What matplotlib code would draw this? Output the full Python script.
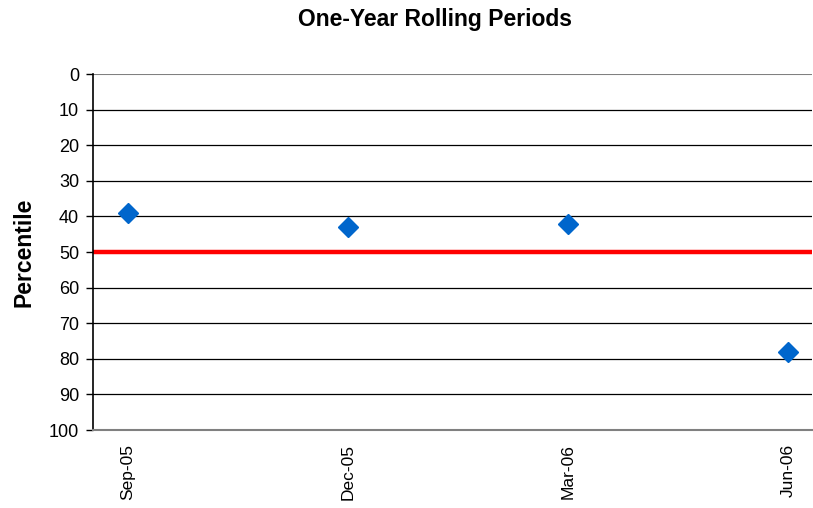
import matplotlib.pyplot as plt

# data
periods = ["Sep-05", "Dec-05", "Mar-06", "Jun-06"]
percentile = [39, 43, 42, 78]
median_line = 50
y_ticks = list(range(0, 101, 10))

plt.rcParams['font.family'] = ['Liberation Sans', 'DejaVu Sans']

fig = plt.figure(figsize=(8.13, 5.08), dpi=100)
ax = fig.add_axes([0.1144, 0.1535, 0.8844, 0.7008])

x = list(range(len(periods)))

# horizontal grid lines
for t in y_ticks[1:-1]:
    ax.axhline(t, color='black', linewidth=0.9, zorder=1)
ax.axhline(0, color='#808080', linewidth=1.5, zorder=1)

# red 50th percentile line
ax.axhline(median_line, color='#ff0000', linewidth=3.2, zorder=2)

ax.plot(x, percentile, linestyle='none', marker='D', markersize=10.5,
        color='#0066cc', zorder=3)

ax.set_ylim(100, 0)
ax.set_xlim(-35 / 220, 3 + 24 / 220)
ax.set_yticks(y_ticks)
ax.set_xticks(x)
ax.set_xticklabels(periods, rotation=90)

for s in ['top', 'right']:
    ax.spines[s].set_visible(False)
ax.spines['bottom'].set_color('#808080')
ax.spines['bottom'].set_linewidth(1.5)
ax.spines['left'].set_color('black')
ax.spines['left'].set_linewidth(1.2)

ax.tick_params(axis='y', length=5, width=1, labelsize=13, pad=5)
ax.tick_params(axis='x', length=0, labelsize=12.5, pad=10)

ax.set_ylabel('Percentile', fontsize=16.5, fontweight='bold')
ax.yaxis.set_label_coords(-0.08, 0.5)
fig.text(0.535, 0.9616, 'One-Year Rolling Periods', fontsize=16.5,
         fontweight='bold', ha='center', va='center')

fig.savefig('out.png', dpi=100)
